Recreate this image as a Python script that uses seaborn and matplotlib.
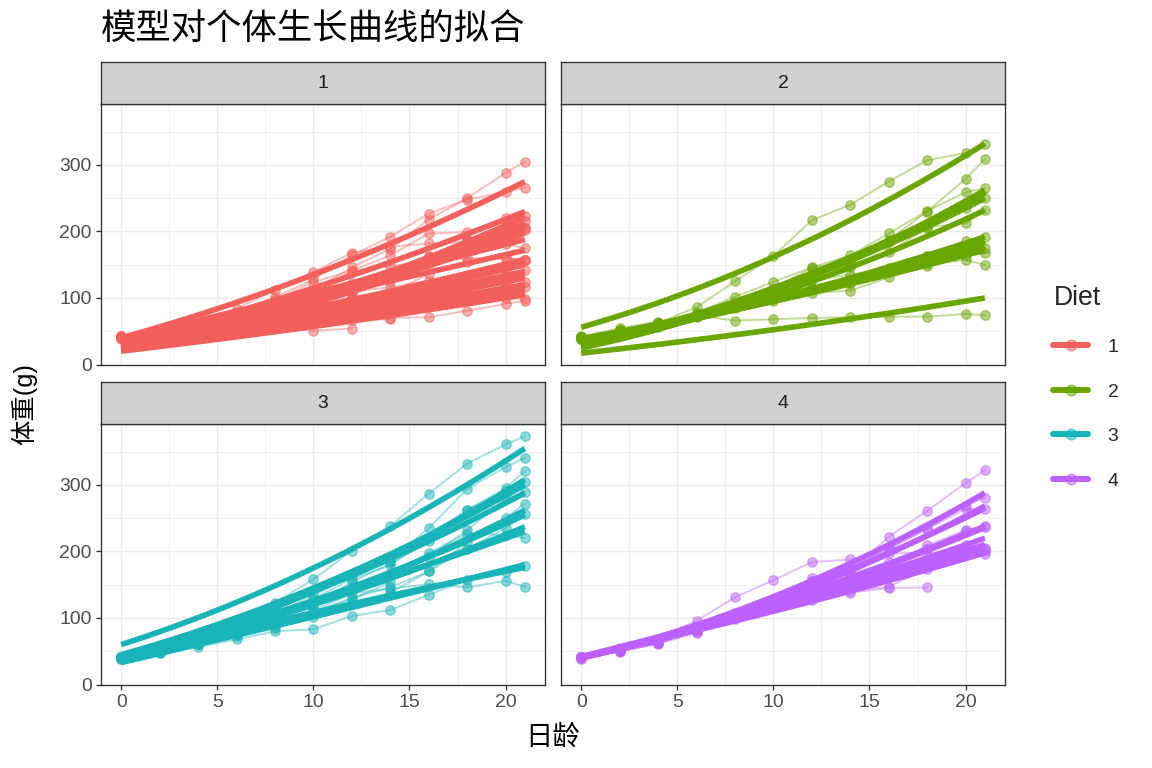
import matplotlib
matplotlib.use("Agg")
import matplotlib.pyplot as plt
import seaborn as sns
import pandas as pd
from matplotlib.colors import to_rgba
from matplotlib.lines import Line2D
from matplotlib.ticker import MultipleLocator

# observed days and the days at which the fitted curves are read
days = [0, 2, 4, 6, 8, 10, 12, 14, 16, 18, 20, 21]
fit_days = [0, 5, 10, 15, 21]

# raw weights per chick (one list per chick)
diet1_weights = [
    [42, 51, 59, 64, 76, 93, 106, 125, 149, 171, 199, 205],
    [40, 49, 58, 72, 84, 103, 122, 138, 162, 187, 209, 215],
    [43, 39, 55, 67, 84, 99, 115, 138, 163, 187, 198, 202],
    [42, 49, 56, 67, 74, 87, 102, 108, 136, 154, 160, 157],
    [41, 42, 48, 60, 79, 106, 141, 164, 197, 199, 220, 223],
    [41, 49, 59, 74, 97, 124, 141, 148, 155, 160, 160, 157],
    [41, 49, 57, 71, 89, 112, 146, 174, 218, 250, 288, 305],
    [42, 50, 61, 71, 84, 93, 110, 116, 126, 134, 125],
    [42, 51, 59, 68, 85, 96, 90, 92, 93, 100, 100, 98],
    [41, 44, 52, 63, 74, 81, 89, 96, 101, 112, 120, 124],
    [43, 51, 63, 84, 112, 139, 168, 177, 182, 184, 181, 175],
    [41, 49, 56, 62, 72, 88, 119, 135, 162, 185, 195, 205],
    [41, 48, 53, 60, 65, 67, 71, 70, 71, 81, 91, 96],
    [41, 49, 62, 79, 101, 128, 164, 192, 227, 248, 259, 266],
    [41, 49, 56, 64, 68, 68, 67, 68],
    [41, 45, 49, 51, 57, 51, 54],
    [42, 51, 61, 72, 83, 89, 98, 103, 113, 123, 133, 142],
    [39, 35],
    [43, 48, 55, 62, 65, 71, 82, 88, 106, 120, 144, 157],
    [41, 47, 54, 58, 65, 73, 77, 89, 98, 107, 115, 117],
]
diet2_weights = [
    [40, 50, 62, 86, 125, 163, 217, 240, 275, 307, 318, 331],
    [41, 55, 64, 77, 90, 95, 108, 111, 131, 148, 164, 167],
    [43, 52, 61, 73, 90, 103, 127, 135, 145, 163, 170, 175],
    [42, 52, 58, 74, 66, 68, 70, 71, 72, 72, 76, 74],
    [40, 49, 62, 78, 102, 124, 146, 164, 197, 231, 259, 265],
    [42, 48, 57, 74, 93, 114, 136, 147, 169, 205, 236, 251],
    [39, 46, 58, 73, 87, 100, 115, 123, 144, 163, 185, 192],
    [39, 46, 58, 73, 92, 114, 145, 156, 184, 207, 212, 233],
    [39, 48, 59, 74, 87, 106, 134, 150, 187, 230, 279, 309],
    [42, 48, 59, 72, 85, 98, 115, 122, 143, 151, 157, 150],
]
diet3_weights = [
    [42, 53, 62, 73, 85, 102, 123, 138, 170, 204, 235, 256],
    [41, 49, 65, 82, 107, 129, 159, 179, 221, 263, 291, 305],
    [39, 50, 63, 77, 96, 111, 137, 144, 151, 146, 156, 147],
    [41, 49, 63, 85, 107, 134, 164, 186, 235, 294, 327, 341],
    [41, 53, 64, 87, 123, 158, 201, 238, 287, 332, 361, 373],
    [39, 48, 61, 76, 98, 116, 145, 166, 198, 227, 225, 220],
    [41, 48, 56, 68, 80, 83, 103, 112, 135, 157, 169, 178],
    [41, 49, 61, 74, 98, 109, 128, 154, 192, 232, 280, 290],
    [42, 50, 61, 78, 89, 109, 130, 146, 170, 214, 250, 272],
    [41, 55, 66, 79, 101, 120, 154, 182, 215, 262, 295, 321],
]
diet4_weights = [
    [42, 51, 66, 85, 103, 124, 155, 153, 175, 184, 199, 204],
    [42, 49, 63, 84, 103, 126, 160, 174, 204, 234, 269, 281],
    [42, 55, 69, 96, 131, 157, 184, 188, 197, 198, 199, 200],
    [42, 51, 65, 86, 103, 118, 127, 138, 145, 146],
    [41, 50, 61, 78, 98, 117, 135, 141, 147, 174, 197, 196],
    [40, 52, 62, 82, 101, 120, 144, 156, 173, 210, 231, 238],
    [41, 53, 66, 79, 100, 123, 148, 157, 168, 185, 210, 205],
    [39, 50, 62, 80, 104, 125, 154, 170, 222, 261, 303, 322],
    [40, 53, 64, 85, 108, 128, 152, 166, 184, 203, 233, 237],
    [41, 54, 67, 84, 105, 122, 155, 175, 205, 234, 264, 264],
]

# fitted weights per chick at fit_days
diet1_fit = [
    [32, 63, 100, 144, 205], [35, 67, 105, 150, 212], [30, 61, 97, 139, 198],
    [30, 56, 85, 117, 158], [25, 58, 100, 150, 222], [38, 69, 100, 132, 172],
    [40, 84, 135, 194, 275], [32, 57, 82, 106, 135], [24, 43, 62, 82, 108],
    [25, 48, 72, 98, 130], [40, 73, 108, 144, 188], [25, 54, 92, 139, 208],
    [20, 38, 57, 78, 105], [32, 71, 115, 164, 230], [35, 53, 72, 92, 117],
    [30, 48, 66, 86, 110], [28, 51, 76, 104, 140], [38, 58, 82, 111, 150],
    [22, 46, 75, 109, 155], [25, 46, 68, 91, 120],
]
diet2_fit = [
    [56, 103, 162, 232, 332], [35, 63, 95, 131, 178], [38, 67, 100, 137, 185],
    [17, 34, 52, 73, 100], [30, 67, 115, 174, 258], [32, 67, 112, 168, 250],
    [30, 62, 98, 138, 192], [28, 62, 105, 157, 232], [25, 61, 110, 172, 262],
    [38, 65, 95, 128, 172],
]
diet3_fit = [
    [38, 76, 120, 170, 237], [42, 87, 140, 202, 288], [40, 75, 108, 140, 176],
    [38, 83, 140, 209, 308], [60, 112, 175, 250, 355], [42, 82, 125, 171, 230],
    [33, 67, 102, 137, 180], [35, 74, 122, 180, 262], [42, 80, 126, 180, 255],
    [45, 90, 145, 210, 300],
]
diet4_fit = [
    [40, 75, 112, 151, 200], [40, 77, 125, 184, 268], [42, 79, 118, 159, 210],
    [42, 75, 110, 148, 198], [40, 75, 112, 152, 205], [40, 77, 120, 169, 236],
    [40, 77, 118, 162, 220], [40, 80, 132, 196, 288], [40, 78, 122, 171, 238],
    [40, 80, 128, 185, 265],
]

diet_labels = ["1", "2", "3", "4"]
diet_colors = ["#F3605B", "#6AA600", "#19B4B8", "#BC60FF"]

raw_rows, fit_rows = [], []
for diet, weights, fits in zip(diet_labels,
                               [diet1_weights, diet2_weights, diet3_weights, diet4_weights],
                               [diet1_fit, diet2_fit, diet3_fit, diet4_fit]):
    for i, (w, f) in enumerate(zip(weights, fits)):
        chick = f"{diet}-{i}"
        for t, v in zip(days, w):
            raw_rows.append({"diet": diet, "chick": chick, "day": t, "weight": v})
        for t, v in zip(fit_days, f):
            fit_rows.append({"diet": diet, "chick": chick, "day": t, "weight": v})
raw_df = pd.DataFrame(raw_rows)
fit_df = pd.DataFrame(fit_rows)

sns.set_theme(style="white")
plt.rcParams["font.family"] = ["Liberation Sans", "Noto Sans CJK SC"]

W, H = 1152, 768
fig = plt.figure(figsize=(12, 8), dpi=96)

col_left = [101, 561]
panel_w = 444
row_top = [104, 424]
panel_h = 260.5
strip_h = 42

for k, diet in enumerate(diet_labels):
    r, c = divmod(k, 2)
    color = diet_colors[k]
    left = col_left[c] / W
    bottom = 1 - (row_top[r] + panel_h) / H
    ax = fig.add_axes([left, bottom, panel_w / W, panel_h / H])

    sub = raw_df[raw_df["diet"] == diet]
    sns.lineplot(data=sub, x="day", y="weight", units="chick", estimator=None,
                 color=color, lw=1.5, alpha=0.4, ax=ax, legend=False, zorder=2)

    # fitted curve for each chick (quadratic in time)
    fsub = fit_df[fit_df["diet"] == diet]
    for chick, g in fsub.groupby("chick"):
        sns.regplot(data=g, x="day", y="weight", order=2, ci=None, scatter=False,
                    truncate=True, ax=ax,
                    line_kws={"color": color, "lw": 4.2, "zorder": 3,
                              "solid_capstyle": "butt"})

    sns.scatterplot(data=sub, x="day", y="weight", color=color, alpha=0.5,
                    s=50, edgecolor=color, linewidth=1, ax=ax, legend=False, zorder=4)

    ax.set_xlim(-1.05, 22.05)
    ax.set_ylim(0, 391.65)
    ax.xaxis.set_major_locator(MultipleLocator(5))
    ax.xaxis.set_minor_locator(MultipleLocator(2.5))
    ax.yaxis.set_major_locator(MultipleLocator(100))
    ax.yaxis.set_minor_locator(MultipleLocator(50))
    ax.grid(which="major", color="#EBEBEB", lw=1.1, zorder=0)
    ax.grid(which="minor", color="#EBEBEB", lw=0.55, zorder=0)
    ax.set_axisbelow(True)
    for sp in ax.spines.values():
        sp.set_color("#333333")
        sp.set_linewidth(1.0)
        sp.set_zorder(6)
    ax.set_xlabel("")
    ax.set_ylabel("")
    ax.tick_params(which="major", length=4, width=1, color="#333333",
                   labelcolor="#4D4D4D", labelsize=14.5, pad=3)
    ax.tick_params(which="minor", length=0)
    ax.tick_params(axis="x", bottom=(r == 1), labelbottom=(r == 1))
    ax.tick_params(axis="y", left=(c == 0), labelleft=(c == 0))

    # facet strip
    sax = fig.add_axes([left, 1 - row_top[r] / H, panel_w / W, strip_h / H])
    sax.set_facecolor("#D0D0D0")
    sax.set_xticks([])
    sax.set_yticks([])
    for sp in sax.spines.values():
        sp.set_color("#333333")
        sp.set_linewidth(1.0)
    sax.text(0.5, 0.5, diet, ha="center", va="center", fontsize=14.5, color="#1A1A1A")

fig.text(101 / W, 1 - 29 / H, "模型对个体生长曲线的拟合", fontsize=26.5,
         ha="left", va="center", color="black")
fig.text(553 / W, 1 - 738 / H, "日龄", fontsize=20.5, ha="center", va="center", color="black")
fig.text(24 / W, 1 - 404 / H, "体重(g)", fontsize=19, rotation=90,
         ha="center", va="center", color="black")

handles = [Line2D([], [], color=col, lw=4.5, marker="o", markersize=8,
                  markerfacecolor=to_rgba(col, 0.5), markeredgecolor=to_rgba(col, 0.6))
           for col in diet_colors]
leg = fig.legend(handles, diet_labels, title="Diet", loc="upper left",
                 bbox_to_anchor=(1036 / W, 1 - 268 / H), frameon=False,
                 fontsize=14.5, title_fontsize=20, handlelength=1.8,
                 labelspacing=1.4, handletextpad=1.0, alignment="left")

fig.savefig("out.png", dpi=96)
